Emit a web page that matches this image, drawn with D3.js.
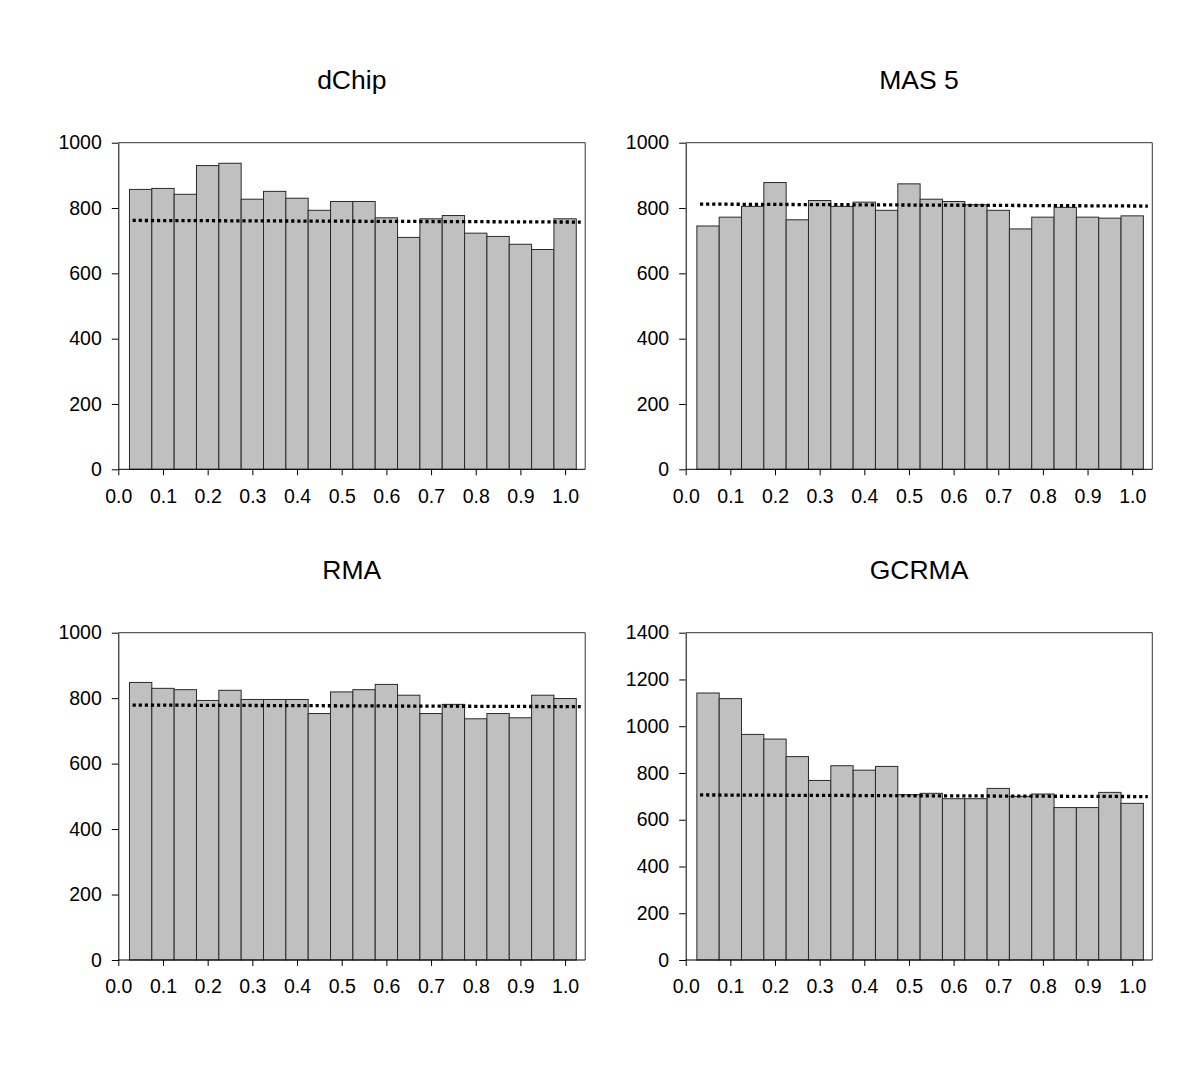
<!DOCTYPE html>
<html>
<head>
<meta charset="utf-8">
<script src="https://cdn.jsdelivr.net/npm/d3@7"></script>
<style>
  body { margin: 0; background: #fff; }
  text { font-family: "Liberation Sans", Arial, sans-serif; fill: #000; }
  .tick line, .domain { stroke: #000; }
</style>
</head>
<body>
<div id="chart"></div>
<script>
const width = 1200
const height = 1091

// datos
const titles = ["dChip", "MAS 5", "RMA", "GCRMA"]
const binCenters = [0.05, 0.10, 0.15, 0.20, 0.25, 0.30, 0.35, 0.40, 0.45, 0.50,
                    0.55, 0.60, 0.65, 0.70, 0.75, 0.80, 0.85, 0.90, 0.95, 1.00]
const dchip = [857, 860, 842, 930, 937, 827, 851, 830, 793, 820, 820, 770, 710, 767, 777, 723, 713, 689, 673, 767]
const mas5 = [745, 772, 805, 878, 764, 823, 805, 818, 793, 874, 827, 820, 810, 793, 736, 772, 802, 772, 769, 776]
const rma = [848, 830, 826, 793, 824, 796, 796, 796, 753, 819, 826, 842, 809, 753, 781, 737, 753, 740, 809, 799]
const gcrma = [1142, 1118, 965, 945, 870, 768, 831, 812, 828, 707, 713, 690, 690, 734, 700, 710, 652, 652, 717, 670]
// linea punteada: valor al inicio y al final
const refLines = [[762, 757], [812, 806], [779, 774], [706, 699]]
const yMax = [1000, 1000, 1000, 1400]
const xTicks = [0, 0.1, 0.2, 0.3, 0.4, 0.5, 0.6, 0.7, 0.8, 0.9, 1.0]
const binWidth = 0.05

const series = [dchip, mas5, rma, gcrma]

// posiciones de los paneles (x(0) y x(1) en pixeles)
const panels = [
    {x0: 118.3, x1: 565.1, top: 142.7, bottom: 469.3, titleY: 89},
    {x0: 685.7, x1: 1132.2, top: 142.7, bottom: 469.3, titleY: 89},
    {x0: 118.3, x1: 565.1, top: 632.7, bottom: 960, titleY: 579},
    {x0: 685.7, x1: 1132.2, top: 632.7, bottom: 960, titleY: 579},
]
const xEnd = 1.045

const svg = d3.select('#chart').append('svg').attr('width', width).attr('height', height)

panels.forEach((p, i) => {
    const values = series[i]
    const x = d3.scaleLinear().domain([0, 1]).range([p.x0, p.x1])
    const y = d3.scaleLinear().domain([0, yMax[i]]).range([p.bottom, p.top])
    const left = x(0), right = x(xEnd)

    const g = svg.append('g').attr('class', 'panel')

    // marco superior y derecho
    g.append('path')
        .attr('d', `M${left},${p.top}H${right}V${p.bottom}`)
        .attr('fill', 'none')
        .attr('stroke', '#333')
        .attr('stroke-width', 1)

    // barras
    g.selectAll('rect').data(values).enter()
        .append('rect')
        .attr('x', (d, j) => x(binCenters[j] - binWidth / 2))
        .attr('width', (d, j) => x(binCenters[j] + binWidth / 2) - x(binCenters[j] - binWidth / 2))
        .attr('y', d => y(d))
        .attr('height', d => y(0) - y(d))
        .attr('fill', '#c0c0c0')
        .attr('stroke', '#2a2a2a')
        .attr('stroke-width', 1)

    // linea punteada
    g.append('line')
        .attr('x1', x(0.032)).attr('x2', x(1.035))
        .attr('y1', y(refLines[i][0])).attr('y2', y(refLines[i][1]))
        .attr('stroke', '#000')
        .attr('stroke-width', 3.3)
        .attr('stroke-dasharray', '3.2,2.9')

    // ejes
    const xAxis = d3.axisBottom(x).tickValues(xTicks).tickFormat(d3.format('.1f')).tickSize(6).tickPadding(13.5)
    const yAxis = d3.axisLeft(y).ticks(yMax[i] / 200).tickFormat(d3.format('d')).tickSize(6.5).tickPadding(10).tickSizeOuter(0)

    g.append('g').attr('transform', `translate(0,${p.bottom})`).call(xAxis)
        .call(a => a.select('.domain').attr('d', `M${left},0H${right}`))
        .selectAll('text').attr('font-size', 19.5).attr('font-family', 'Liberation Sans, Arial, sans-serif')
    g.append('g').attr('transform', `translate(${left},0)`).call(yAxis)
        .selectAll('text').attr('font-size', 19.5).attr('font-family', 'Liberation Sans, Arial, sans-serif')

    // titulo
    g.append('text')
        .attr('x', (left + right) / 2)
        .attr('y', p.titleY)
        .attr('text-anchor', 'middle')
        .attr('font-size', 26.5)
        .text(titles[i])
})
</script>
</body>
</html>
